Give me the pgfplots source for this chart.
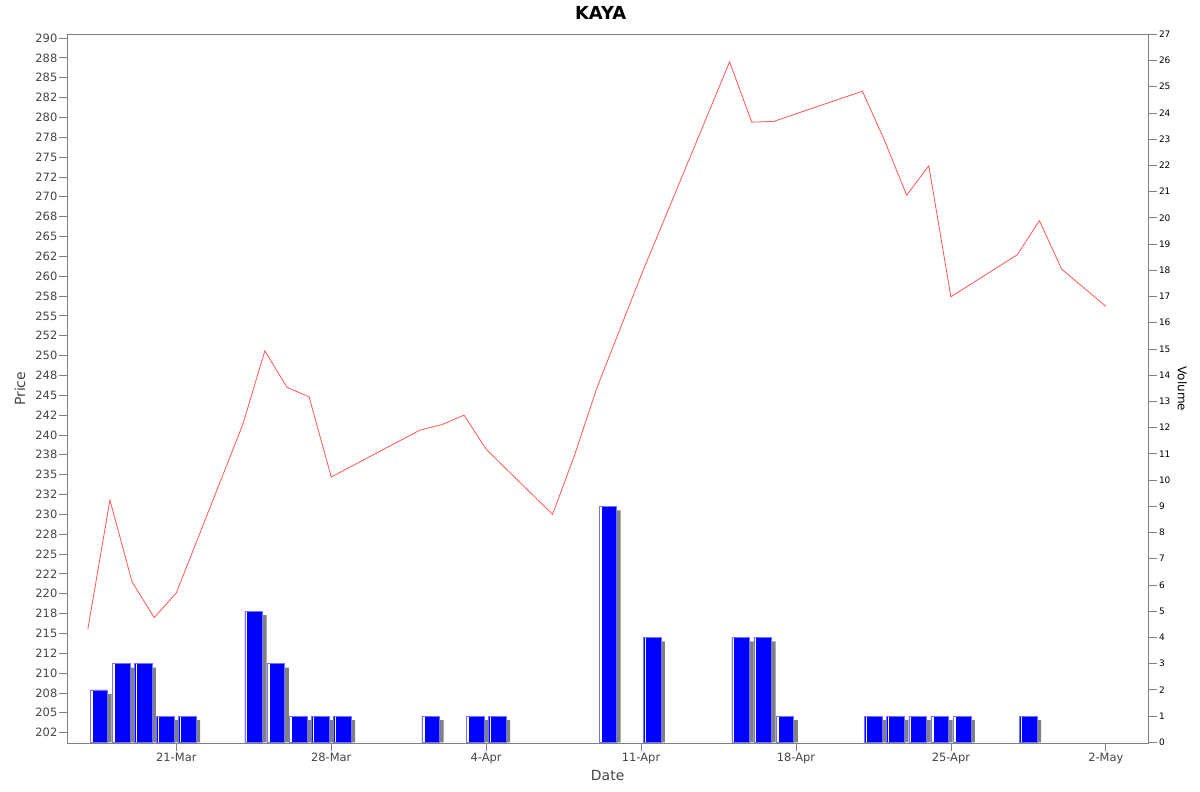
\documentclass[border=0pt]{standalone}
\usepackage{pgfplots}
\usepackage{pgfplotstable}
\pgfplotsset{compat=1.18}
\usepackage{fontspec}
\setmainfont{DejaVu Sans}
\definecolor{axgray}{HTML}{808080}
\definecolor{labgray}{HTML}{444444}
\definecolor{pricered}{HTML}{FF5555}
\definecolor{barblue}{HTML}{0000FF}
\definecolor{shadowgray}{HTML}{808080}

% price: day offset from 21-Mar, close
\pgfplotstableread{
d p
-4 215.5
-3 231.8
-2 221.5
-1 217.0
0 220.1
3 241.3
4 250.6
5 246.0
6 244.8
7 234.7
11 240.6
12 241.3
13 242.5
14 238.2
17 230.0
18 237.5
19 245.9
21 260.1
25 287.0
26 279.4
27 279.5
31 283.3
32 277.1
33 270.2
34 273.9
35 257.4
38 262.7
39 267.0
40 260.9
42 256.2
}\pricedata

% volume: day offset from 21-Mar, volume
\pgfplotstableread{
d v
-4 2
-3 3
-2 3
-1 1
0 1
3 5
4 3
5 1
6 1
7 1
11 1
13 1
14 1
19 9
21 4
25 4
26 4
27 1
31 1
32 1
33 1
34 1
35 1
38 1
}\voldata

\begin{document}
\begin{tikzpicture}
\useasboundingbox (0bp,0bp) rectangle (1200bp,792bp);
\begin{axis}[
  at={(67bp,48.7bp)}, anchor=south west, scale only axis,
  width=1081.3bp, height=709bp,
  xmin=-4.94, xmax=43.92, ymin=201.16, ymax=290.47,
  axis line style={axgray, line width=0.8bp},
  tick pos=left, tick align=outside,
  major tick length=8bp,
  tick style={axgray, line width=0.8bp},
  xtick={0,7,14,21,28,35,42},
  xticklabels={21-Mar,28-Mar,4-Apr,11-Apr,18-Apr,25-Apr,2-May},
  ytick={202.5,205,207.5,210,212.5,215,217.5,220,222.5,225,227.5,230,232.5,235,237.5,240,242.5,245,247.5,250,252.5,255,257.5,260,262.5,265,267.5,270,272.5,275,277.5,280,282.5,285,287.5,290},
  yticklabels={202,205,208,210,212,215,218,220,222,225,228,230,232,235,238,240,242,245,248,250,252,255,258,260,262,265,268,270,272,275,278,280,282,285,288,290},
  yticklabel style={font=\fontsize{11.5}{13}\selectfont, text=labgray, inner sep=1.5bp},
  xticklabel style={font=\fontsize{11.5}{13}\selectfont, text=labgray, inner sep=1.5bp},
  xlabel={Date},
  ylabel={Price},
  every axis x label/.style={font=\fontsize{14}{16}\selectfont, text=labgray, at={([yshift=-32.5bp]rel axis cs:0.5,0)}, anchor=center},
  every axis y label/.style={font=\fontsize{14}{16}\selectfont, text=labgray, at={([xshift=-47bp]rel axis cs:0,0.5)}, anchor=center, rotate=90},
  title={KAYA},
  every axis title/.style={font=\fontsize{18}{20}\selectfont\bfseries, at={([xshift=-7bp,yshift=21bp]rel axis cs:0.5,1)}, anchor=center},
]
\addplot[pricered, line width=0.8bp, mark=none] table[x=d, y=p] {\pricedata};
\draw[axgray, line width=0.8bp] ([xshift=-4bp]rel axis cs:0,0) -- ([xshift=-4bp]rel axis cs:0,1);
\draw[axgray, line width=0.8bp] ([yshift=-4bp]rel axis cs:0,0) -- ([yshift=-4bp]rel axis cs:1,0);
\end{axis}
\begin{axis}[
  at={(67bp,48.7bp)}, anchor=south west, scale only axis,
  width=1081.3bp, height=709bp,
  xmin=-4.94, xmax=43.92, ymin=-0.04, ymax=27,
  axis y line*=right, axis x line=none,
  axis line style={axgray, line width=0.8bp},
  tick align=outside,
  major tick length=8.5bp,
  tick style={axgray, line width=0.8bp},
  xtick=\empty,
  ytick={0,1,...,27},
  /pgf/number format/assume math mode=true,
  yticklabel style={font=\fontsize{9}{10}\selectfont, text=black, inner sep=2bp},
  ylabel={Volume},
  every axis y label/.style={font=\fontsize{12}{14}\selectfont, text=black, at={([xshift=34bp]rel axis cs:1,0.5)}, anchor=center, rotate=-90},
]
\addplot[ybar, bar width=0.8, bar shift=0pt, fill=shadowgray, draw=none]
  table[x expr=\thisrow{d}+0.68, y expr=\thisrow{v}-0.153] {\voldata};
\addplot[ybar, bar width=0.8, bar shift=0pt, fill=barblue, draw=blue!55!white, line width=0.6bp]
  table[x expr=\thisrow{d}+0.5, y=v] {\voldata};
\addplot[ycomb, white, line width=1.3bp, mark=none]
  table[x expr=\thisrow{d}+0.185, y expr=\thisrow{v}-0.03] {\voldata};
\draw[axgray, line width=0.8bp] ([xshift=4bp]rel axis cs:1,0) -- ([xshift=4bp]rel axis cs:1,1);
\end{axis}
\end{tikzpicture}
\end{document}
